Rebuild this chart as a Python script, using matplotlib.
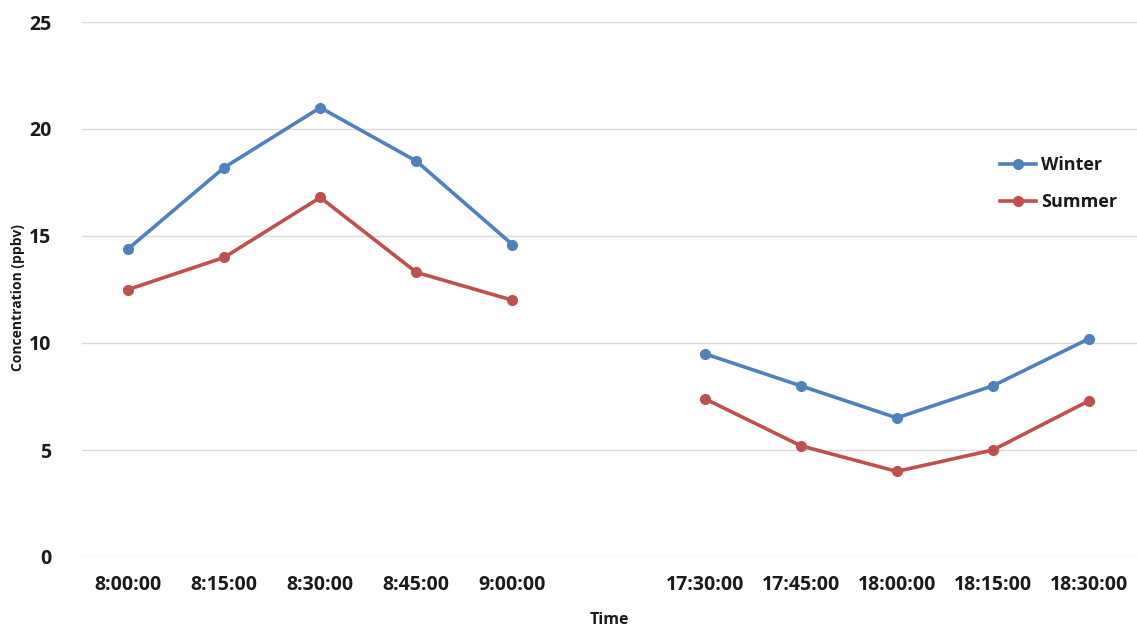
import numpy as np
import matplotlib.pyplot as plt

plt.rcParams['font.family'] = ['Open Sans', 'DejaVu Sans']

# categories (empty slot separates morning and evening)
times = ["8:00:00", "8:15:00", "8:30:00", "8:45:00", "9:00:00", "",
         "17:30:00", "17:45:00", "18:00:00", "18:15:00", "18:30:00"]
winter = [14.4, 18.2, 21.0, 18.5, 14.6, np.nan, 9.5, 8.0, 6.5, 8.0, 10.2]
summer = [12.5, 14.0, 16.8, 13.3, 12.0, np.nan, 7.4, 5.2, 4.0, 5.0, 7.3]

fig = plt.figure(figsize=(11.37, 6.28), dpi=100)
ax = fig.add_axes([82/1137, 1 - 557/628, (1137 - 82)/1137, (557 - 22)/628])

x = np.arange(len(times))
ax.plot(x, winter, color='#4F81BD', lw=2.6, marker='o', ms=7, label='Winter')
ax.plot(x, summer, color='#C0504D', lw=2.6, marker='o', ms=7, label='Summer')

ax.set_xlim(-0.48, 10.5)
ax.set_ylim(0, 25)
ax.set_yticks([0, 5, 10, 15, 20, 25])
ax.set_xticks(x)
ax.set_xticklabels(times)
ax.grid(axis='y', color='#d9d9d9', lw=1)
ax.set_axisbelow(True)
for s in ax.spines.values():
    s.set_visible(False)
ax.tick_params(length=0, colors='#1a1a1a')
ax.tick_params(axis='y', pad=22, labelsize=14)
ax.tick_params(axis='x', pad=13, labelsize=14)
for t in ax.get_xticklabels() + ax.get_yticklabels():
    t.set_fontweight('bold')

fig.text(18/1137, 1 - 298/628, 'Concentration (ppbv)', rotation=90, ha='center',
         va='center', fontsize=10, fontweight='bold', color='#1a1a1a')
ax.set_xlabel('Time', fontsize=11.5, fontweight='bold', labelpad=12, color='#1a1a1a')

leg = ax.legend(loc='upper left', bbox_to_anchor=(0.855, 0.78), frameon=False,
                handlelength=2.0, handletextpad=0.25, labelspacing=1.05,
                prop={'weight': 'bold', 'size': 13})
for t in leg.get_texts():
    t.set_color('#1a1a1a')

fig.savefig('out.png', dpi=100)
